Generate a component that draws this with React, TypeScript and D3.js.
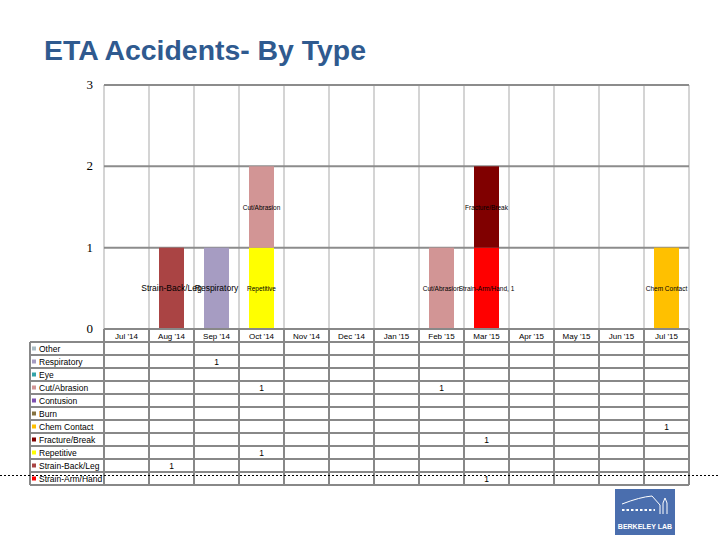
import React from "react";
import * as d3 from "d3";

// months on the x axis
const months = [
  "Jul '14", "Aug '14", "Sep '14", "Oct '14", "Nov '14", "Dec '14", "Jan '15",
  "Feb '15", "Mar '15", "Apr '15", "May '15", "Jun '15", "Jul '15",
];

// table rows, top to bottom (stacking goes bottom row first)
const seriesNames = [
  "Other", "Respiratory", "Eye", "Cut/Abrasion", "Contusion", "Burn",
  "Chem Contact", "Fracture/Break", "Repetitive", "Strain-Back/Leg", "Strain-Arm/Hand",
];

const other: (number | null)[] = [null, null, null, null, null, null, null, null, null, null, null, null, null];
const respiratory: (number | null)[] = [null, null, 1, null, null, null, null, null, null, null, null, null, null];
const eye: (number | null)[] = [null, null, null, null, null, null, null, null, null, null, null, null, null];
const cutAbrasion: (number | null)[] = [null, null, null, 1, null, null, null, 1, null, null, null, null, null];
const contusion: (number | null)[] = [null, null, null, null, null, null, null, null, null, null, null, null, null];
const burn: (number | null)[] = [null, null, null, null, null, null, null, null, null, null, null, null, null];
const chemContact: (number | null)[] = [null, null, null, null, null, null, null, null, null, null, null, null, 1];
const fractureBreak: (number | null)[] = [null, null, null, null, null, null, null, null, 1, null, null, null, null];
const repetitive: (number | null)[] = [null, null, null, 1, null, null, null, null, null, null, null, null, null];
const strainBackLeg: (number | null)[] = [null, 1, null, null, null, null, null, null, null, null, null, null, null];
const strainArmHand: (number | null)[] = [null, null, null, null, null, null, null, null, 1, null, null, null, null];

const seriesValues = [
  other, respiratory, eye, cutAbrasion, contusion, burn,
  chemContact, fractureBreak, repetitive, strainBackLeg, strainArmHand,
];

// data label text shown on the bars
const barLabels: Record<string, string> = {
  "Respiratory": "Respiratory",
  "Cut/Abrasion": "Cut/Abrasion",
  "Chem Contact": "Chem Contact",
  "Fracture/Break": "Fracture/Break",
  "Repetitive": "Repetitive",
  "Strain-Back/Leg": "Strain-Back/Leg",
  "Strain-Arm/Hand": "Strain-Arm/Hand, 1",
};

const yTicks = [0, 1, 2, 3];

const colors: Record<string, string> = {
  "Other": "#a9bcc4",
  "Respiratory": "#a69cc2",
  "Eye": "#33a3a8",
  "Cut/Abrasion": "#d29595",
  "Contusion": "#7d4fb0",
  "Burn": "#857240",
  "Chem Contact": "#ffc000",
  "Fracture/Break": "#800000",
  "Repetitive": "#ffff00",
  "Strain-Back/Leg": "#aa4444",
  "Strain-Arm/Hand": "#ff0000",
};

const W = 720;
const H = 540;
const left = 104;
const right = 689;
const top = 85;
const bottom = 329;
const tableLeft = 30;
const rowH = 13;
const sansFont = "'Liberation Sans', Arial, sans-serif";

export default function App() {
  const x = d3.scaleBand<string>().domain(months).range([left, right])
    .paddingInner(20 / 45).paddingOuter(10 / 45);
  const step = x.step();
  const half = (step * x.paddingInner()) / 2;
  const y = d3.scaleLinear().domain([0, 3]).range([bottom, top]);

  const table = months.map((m, i) => {
    const row: Record<string, number | string> = { month: m };
    seriesNames.forEach((s, k) => { row[s] = seriesValues[k][i] ?? 0; });
    return row;
  });
  const stackKeys = [...seriesNames].reverse();
  const stacked = d3.stack<Record<string, number | string>>().keys(stackKeys)(table as any);

  const colEdges = months.map((m) => (x(m) as number) - half).concat([right]);
  const tableBottom = bottom + rowH * (seriesNames.length + 1);

  // bigger labels for a couple of series, as in the original
  const labelSize = (s: string) =>
    s === "Strain-Back/Leg" || s === "Respiratory" ? 8.5 : 6.5;

  return (
    <svg width={W} height={H} style={{ position: "absolute", left: 0, top: 0, background: "#fff" }}>
      <text x={44} y={60} fontFamily={sansFont} fontWeight="bold" fontSize={28} fill="#2f5a8f"
        textLength={322} lengthAdjust="spacingAndGlyphs">
        ETA Accidents- By Type
      </text>

      {/* vertical gridlines */}
      {colEdges.map((cx, i) => (
        <line key={"v" + i} x1={cx} x2={cx} y1={top} y2={bottom} stroke="#d4d4d4" strokeWidth={2} />
      ))}
      {/* horizontal gridlines */}
      {yTicks.map((t) => (
        <line key={"h" + t} x1={left} x2={right} y1={y(t)} y2={y(t)} stroke="#8c8c8c" strokeWidth={2} />
      ))}
      {yTicks.map((t) => (
        <text key={"yl" + t} x={93} y={y(t) + 4} textAnchor="end" fontFamily="'Liberation Serif', serif"
          fontSize={13} fill="#000">{t}</text>
      ))}

      {/* bars */}
      {stacked.map((layer) => (
        <g key={layer.key}>
          {layer.map((d, i) => d[1] - d[0] > 0 ? (
            <rect key={i} x={x(months[i])} width={x.bandwidth()} y={y(d[1])} height={y(d[0]) - y(d[1])}
              fill={colors[layer.key]} />
          ) : null)}
        </g>
      ))}
      {/* data labels */}
      {stacked.map((layer) => (
        <g key={"l" + layer.key}>
          {layer.map((d, i) => d[1] - d[0] > 0 ? (
            <text key={i} x={(x(months[i]) as number) + x.bandwidth() / 2} y={y((d[0] + d[1]) / 2) + 3}
              textAnchor="middle" fontFamily={sansFont} fontSize={labelSize(layer.key)} fill="#000">
              {barLabels[layer.key]}
            </text>
          ) : null)}
        </g>
      ))}

      {/* data table */}
      <g fontFamily={sansFont} fontSize={8.5} fill="#000">
        {months.map((m) => (
          <text key={"mh" + m} x={(x(m) as number) + x.bandwidth() / 2} y={bottom + 9.5} textAnchor="middle"
            fontSize={8}>{m}</text>
        ))}
        {seriesNames.map((s, k) => {
          const ry = bottom + rowH * (k + 1);
          return (
            <g key={"r" + s}>
              <rect x={tableLeft + 2} y={ry + 4.5} width={4} height={4} fill={colors[s]} />
              <text x={tableLeft + 9} y={ry + 9.5}>{s}</text>
              {seriesValues[k].map((v, i) => v != null ? (
                <text key={i} x={(x(months[i]) as number) + x.bandwidth() / 2} y={ry + 9.5} textAnchor="middle">{v}</text>
              ) : null)}
            </g>
          );
        })}
        <line x1={left} x2={right} y1={bottom} y2={bottom} stroke="#888" strokeWidth={2} />
        {d3.range(seriesNames.length + 1).map((k) => (
          <line key={"tr" + k} x1={tableLeft} x2={right} y1={bottom + rowH * (k + 1)} y2={bottom + rowH * (k + 1)}
            stroke="#888" strokeWidth={2} />
        ))}
        <line x1={tableLeft} x2={tableLeft} y1={bottom + rowH} y2={tableBottom} stroke="#888" strokeWidth={2} />
        {colEdges.map((cx, i) => (
          <line key={"tc" + i} x1={cx} x2={cx} y1={bottom} y2={tableBottom} stroke="#888" strokeWidth={2} />
        ))}
      </g>

      {/* slide dotted rule */}
      <line x1={0} x2={W} y1={475.5} y2={475.5} stroke="#000" strokeWidth={1} strokeDasharray="2,2" />

      {/* logo */}
      <g>
        <rect x={615} y={489} width={60} height={46} fill="#4a6eae" />
        <path d="M622,504 Q640,497 652,496 L660,505 L660,514" fill="none" stroke="#fff" strokeWidth={1} />
        <line x1={622} x2={655} y1={510} y2={510} stroke="#fff" strokeWidth={2} strokeDasharray="2.5,2" />
        <path d="M663,514 L663,503 L665,498 L667,503 L667,514" fill="none" stroke="#fff" strokeWidth={1} />
        <text x={645} y={529} textAnchor="middle" fontFamily={sansFont} fontWeight="bold" fontSize={7} fill="#fff">
          BERKELEY LAB
        </text>
      </g>
    </svg>
  );
}
